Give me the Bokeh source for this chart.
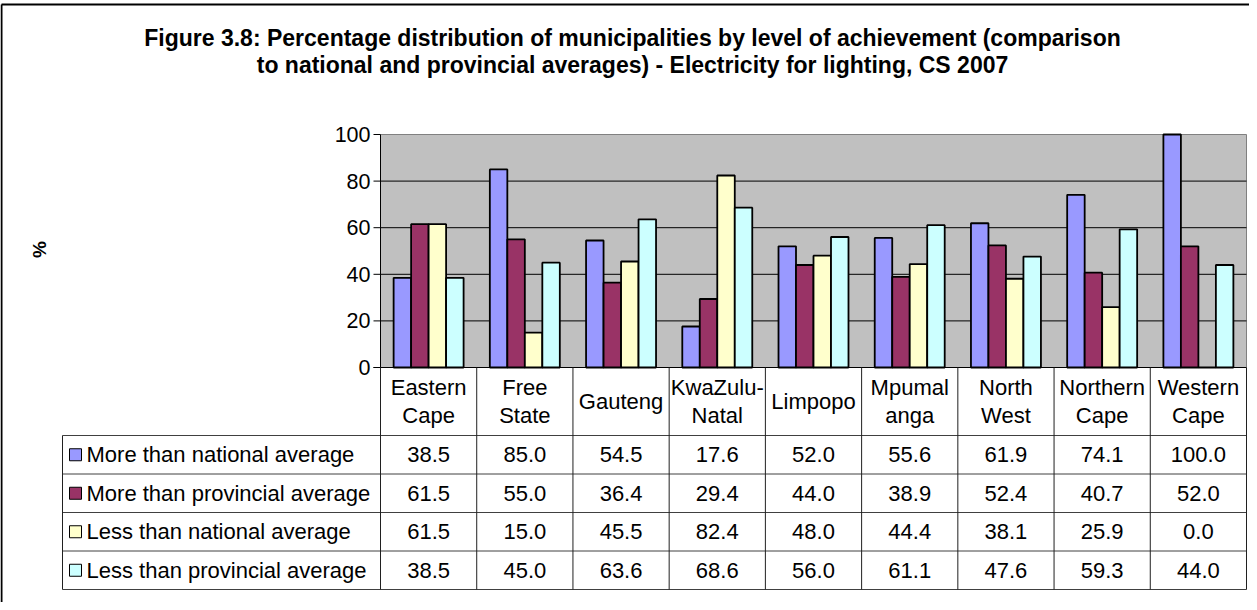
import math
from bokeh.plotting import figure
from bokeh.models import Range1d
from bokeh.core.properties import value
from bokeh.embed import file_html
from bokeh.resources import INLINE

# ---------------- data ----------------
categories = ["Eastern Cape", "Free State", "Gauteng", "KwaZulu-Natal", "Limpopo",
              "Mpumalanga", "North West", "Northern Cape", "Western Cape"]
category_labels = ["Eastern\nCape", "Free\nState", "Gauteng", "KwaZulu-\nNatal", "Limpopo",
                   "Mpumal\nanga", "North\nWest", "Northern\nCape", "Western\nCape"]
series_names = ["More than national average", "More than provincial average",
                "Less than national average", "Less than provincial average"]
more_national = [38.5, 85.0, 54.5, 17.6, 52.0, 55.6, 61.9, 74.1, 100.0]
more_provincial = [61.5, 55.0, 36.4, 29.4, 44.0, 38.9, 52.4, 40.7, 52.0]
less_national = [61.5, 15.0, 45.5, 82.4, 48.0, 44.4, 38.1, 25.9, 0.0]
less_provincial = [38.5, 45.0, 63.6, 68.6, 56.0, 61.1, 47.6, 59.3, 44.0]
y_ticks = [0, 20, 40, 60, 80, 100]
title_lines = ["Figure 3.8: Percentage distribution of municipalities by level of achievement (comparison",
               "to national and provincial averages) - Electricity for lighting, CS 2007"]
y_label = "%"
series_values = [more_national, more_provincial, less_national, less_provincial]
colors = ["#9999FF", "#993366", "#FFFFCC", "#CCFFFF"]

# ---------------- layout (page pixels) ----------------
PLOT_L, PLOT_R, PLOT_T, PLOT_B = 388, 1254, 142, 375
Y_MAX = 100.0
N = len(categories)
PX_CAT = (PLOT_R - PLOT_L) / N
PX_VAL = (PLOT_B - PLOT_T) / Y_MAX
FONT = value("Liberation Sans")
TXT = "22px"


def X(px):
    return (px - PLOT_L) / PX_CAT


def Y(py):
    return (PLOT_B - py) / PX_VAL


W, H = 1249, 602
p = figure(width=W, height=H, x_range=Range1d(X(8), X(8 + W)), y_range=Range1d(Y(8 + H), Y(8)),
           x_axis_type=None, y_axis_type=None, toolbar_location=None, output_backend="svg",
           min_border=0, outline_line_color=None)
p.background_fill_color = "white"
p.border_fill_color = "white"

# outer chart border
p.segment(x0=[X(9), X(9)], y0=[Y(12), Y(12)], x1=[X(1257), X(9)], y1=[Y(12), Y(610)],
          line_color="black", line_width=2)

# plot area
p.quad(left=[0], right=[N], bottom=[0], top=[Y_MAX], fill_color="#C0C0C0", line_color=None)
p.segment(x0=[0, N], y0=[Y_MAX, Y_MAX], x1=[N, N], y1=[Y_MAX, 0], line_color="#808080", line_width=1)
grid = [t for t in y_ticks if 0 < t < Y_MAX]
p.segment(x0=[0] * len(grid), y0=grid, x1=[N] * len(grid), y1=grid, line_color="black", line_width=1)

# bars
bw = 1 / 5.5
for k, (vals, col) in enumerate(zip(series_values, colors)):
    xs = [i + 0.5 + (k - 1.5) * bw for i in range(N)]
    p.vbar(x=xs, top=vals, bottom=0, width=bw, fill_color=col, line_color="black", line_width=1.8)

# axes
p.segment(x0=[0], y0=[0], x1=[0], y1=[Y_MAX], line_color="black", line_width=1)
p.segment(x0=[X(381)], y0=[0], x1=[N], y1=[0], line_color="black", line_width=1)
p.segment(x0=[X(381)] * len(y_ticks), y0=y_ticks, x1=[0] * len(y_ticks), y1=y_ticks,
          line_color="black", line_width=1)
p.text(x=[X(378)] * len(y_ticks), y=y_ticks, text=[str(t) for t in y_ticks],
       text_align="right", text_baseline="middle", text_font=FONT, text_font_size="21.5px",
       text_color="black")

# data table
HDR_B = 443
ROW_H = (597 - HDR_B) / 4
TBL_L = 70
row_lines = [HDR_B + ROW_H * r for r in range(5)]
p.segment(x0=[X(TBL_L)] * 5, y0=[Y(v) for v in row_lines], x1=[N] * 5, y1=[Y(v) for v in row_lines],
          line_color="#404040", line_width=1)
vx = list(range(N + 1))
p.segment(x0=vx, y0=[0] * len(vx), x1=vx, y1=[Y(597)] * len(vx), line_color="#202020", line_width=1)
p.segment(x0=[X(TBL_L)], y0=[Y(HDR_B)], x1=[X(TBL_L)], y1=[Y(597)], line_color="#202020", line_width=1)

p.text(x=[i + 0.5 for i in range(N)], y=[Y((PLOT_B + HDR_B) / 2)] * N, text=category_labels,
       text_align="center", text_baseline="middle", text_font=FONT, text_font_size=TXT,
       text_line_height=1.1, text_color="black")

for r, (vals, col, name) in enumerate(zip(series_values, colors, series_names)):
    yc = Y(HDR_B + ROW_H * (r + 0.5))
    p.text(x=[i + 0.5 for i in range(N)], y=[yc] * N, text=["%.1f" % v for v in vals],
           text_align="center", text_baseline="middle", text_font=FONT, text_font_size=TXT,
           text_color="black")
    p.rect(x=[X(83)], y=[yc], width=12 / PX_CAT, height=12 / PX_VAL, fill_color=col,
           line_color="black", line_width=1)
    p.text(x=[X(94)], y=[yc], text=[name], text_align="left", text_baseline="middle",
           text_font=FONT, text_font_size=TXT, text_color="black")

# axis title
p.text(x=[X(47)], y=[Y(257)], text=[y_label], angle=math.pi / 2, text_align="center",
       text_baseline="middle", text_font=FONT, text_font_size="19px", text_font_style="bold",
       text_color="black")

# chart title
p.text(x=[X(640), X(640)], y=[Y(45), Y(72)], text=title_lines, text_align="center",
       text_baseline="middle", text_font=FONT, text_font_size="23px", text_font_style="bold",
       text_color="black")

open("out.html", "w").write(file_html(p, INLINE))
